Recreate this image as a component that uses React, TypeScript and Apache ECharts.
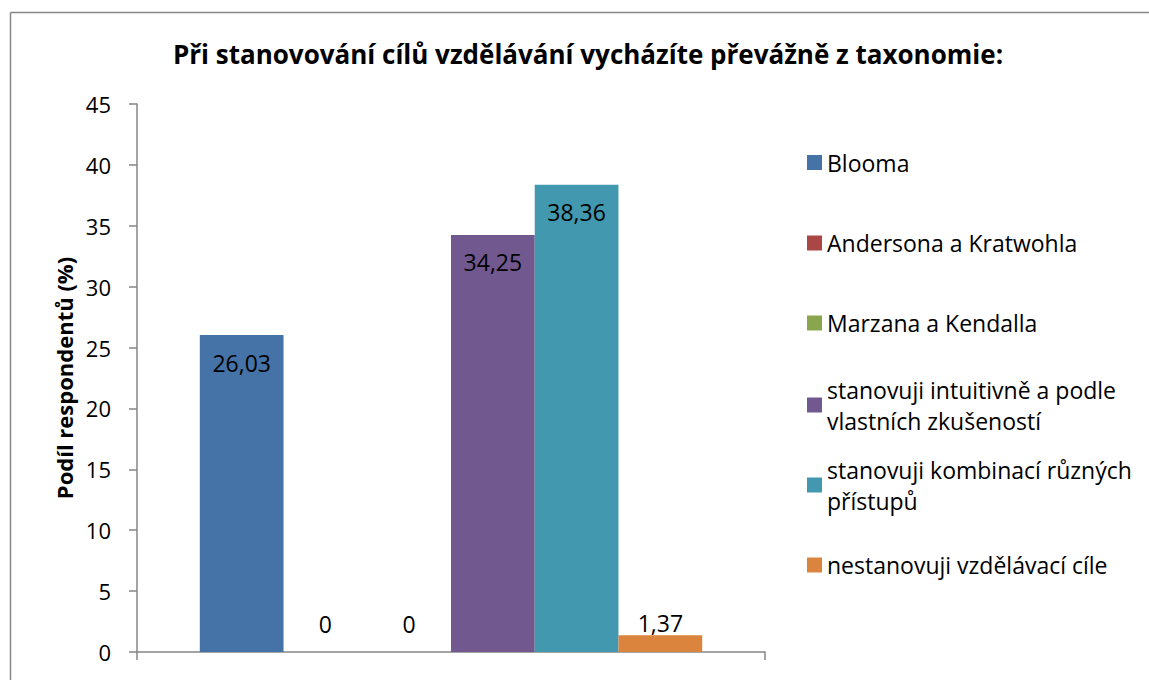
import React, { useEffect, useRef } from "react";
import * as echarts from "echarts";

const titleText = "Při stanovování cílů vzdělávání vycházíte převážně z taxonomie:";
const yAxisName = "Podíl respondentů (%)";
const categories = [""];
const seriesNames = [
  "Blooma",
  "Andersona a Kratwohla",
  "Marzana a Kendalla",
  "stanovuji intuitivně a podle vlastních zkušeností",
  "stanovuji kombinací různých přístupů",
  "nestanovuji vzdělávací cíle",
];
const legendLines = [
  ["Blooma"],
  ["Andersona a Kratwohla"],
  ["Marzana a Kendalla"],
  ["stanovuji intuitivně a podle", "vlastních zkušeností"],
  ["stanovuji kombinací různých", "přístupů"],
  ["nestanovuji vzdělávací cíle"],
];
const seriesValues = [26.03, 0, 0, 34.25, 38.36, 1.37];
const seriesColors = ["#4572A7", "#AA4643", "#89A54E", "#71588F", "#4198AF", "#DB843D"];
const yMin = 0;
const yMax = 45;
const yInterval = 5;

const FONT = "'Open Sans', 'Noto Sans', sans-serif";
const legendCenters = [162.5, 243, 323, 405, 485, 565];

function fmt(v: number): string {
  return String(v).replace(".", ",");
}

export default function App() {
  const ref = useRef<HTMLDivElement>(null);
  useEffect(() => {
    if (!ref.current) return;
    document.body.style.margin = "0";
    document.body.style.overflow = "hidden";
    const chart = echarts.init(ref.current, null, { renderer: "svg" });
    const LH = 31;
    const legends = seriesNames.map((name, i) => {
      const lines = legendLines[i];
      const multi = lines.length > 1;
      return {
        data: [name],
        orient: "vertical",
        left: 807,
        top: legendCenters[i] - (multi ? LH * 1.5 : LH / 2),
        padding: 0,
        itemWidth: 15,
        itemHeight: 15,
        selectedMode: false,
        icon: "rect",
        formatter: () => lines.join("\n"),
        textStyle: {
          fontFamily: FONT,
          fontSize: 23,
          color: "#000",
          lineHeight: LH,
          padding: multi ? [LH, 0, 0, 0] : 0,
        },
      };
    });
    const insideIdx = [0, 3, 4];
    const series = seriesNames.map((name, i) => ({
      type: "bar",
      name,
      data: [seriesValues[i]],
      barGap: "0%",
      barCategoryGap: "20%",
      itemStyle: { color: seriesColors[i] },
      label: {
        show: true,
        position: insideIdx.includes(i) ? "insideTop" : "top",
        distance: insideIdx.includes(i) ? 16 : seriesValues[i] === 0 ? 17 : 1,
        formatter: (p: any) => fmt(p.value),
        fontFamily: FONT,
        fontSize: 23,
        color: "#000",
      },
    }));
    chart.setOption({
      animation: false,
      title: {
        text: titleText,
        left: 588,
        top: 41,
        textAlign: "center",
        padding: 0,
        textStyle: { fontFamily: FONT, fontSize: 26, fontWeight: "bold", color: "#000" },
      },
      graphic: [
        {
          type: "line",
          shape: { x1: 10.5, y1: 12.5, x2: 10.5, y2: 700 },
          style: { stroke: "#878787", lineWidth: 1.5 },
          z: -10,
        },
        {
          type: "line",
          shape: { x1: 10.5, y1: 12.5, x2: 1149, y2: 12.5 },
          style: { stroke: "#878787", lineWidth: 1.5 },
          z: -10,
        },
      ],
      legend: legends,
      grid: { left: 137, right: 384, top: 104, bottom: 28, containLabel: false },
      xAxis: {
        type: "category",
        data: categories,
        axisLine: { lineStyle: { color: "#868686", width: 1.5 } },
        axisTick: { show: true, length: 8, lineStyle: { color: "#868686", width: 1.5 } },
        axisLabel: { show: false },
      },
      yAxis: {
        type: "value",
        min: yMin,
        max: yMax,
        interval: yInterval,
        name: yAxisName,
        nameLocation: "middle",
        nameGap: 60,
        nameTextStyle: { fontFamily: FONT, fontSize: 22, fontWeight: "bold", color: "#000" },
        axisLine: { show: true, lineStyle: { color: "#868686", width: 1.5 } },
        axisTick: { show: true, length: 8, lineStyle: { color: "#868686", width: 1.5 } },
        splitLine: { show: false },
        axisLabel: { fontFamily: FONT, fontSize: 22, color: "#000", margin: 26 },
      },
      series,
    });
    return () => chart.dispose();
  }, []);
  return <div ref={ref} style={{ width: 1149, height: 680, background: "#fff" }} />;
}
